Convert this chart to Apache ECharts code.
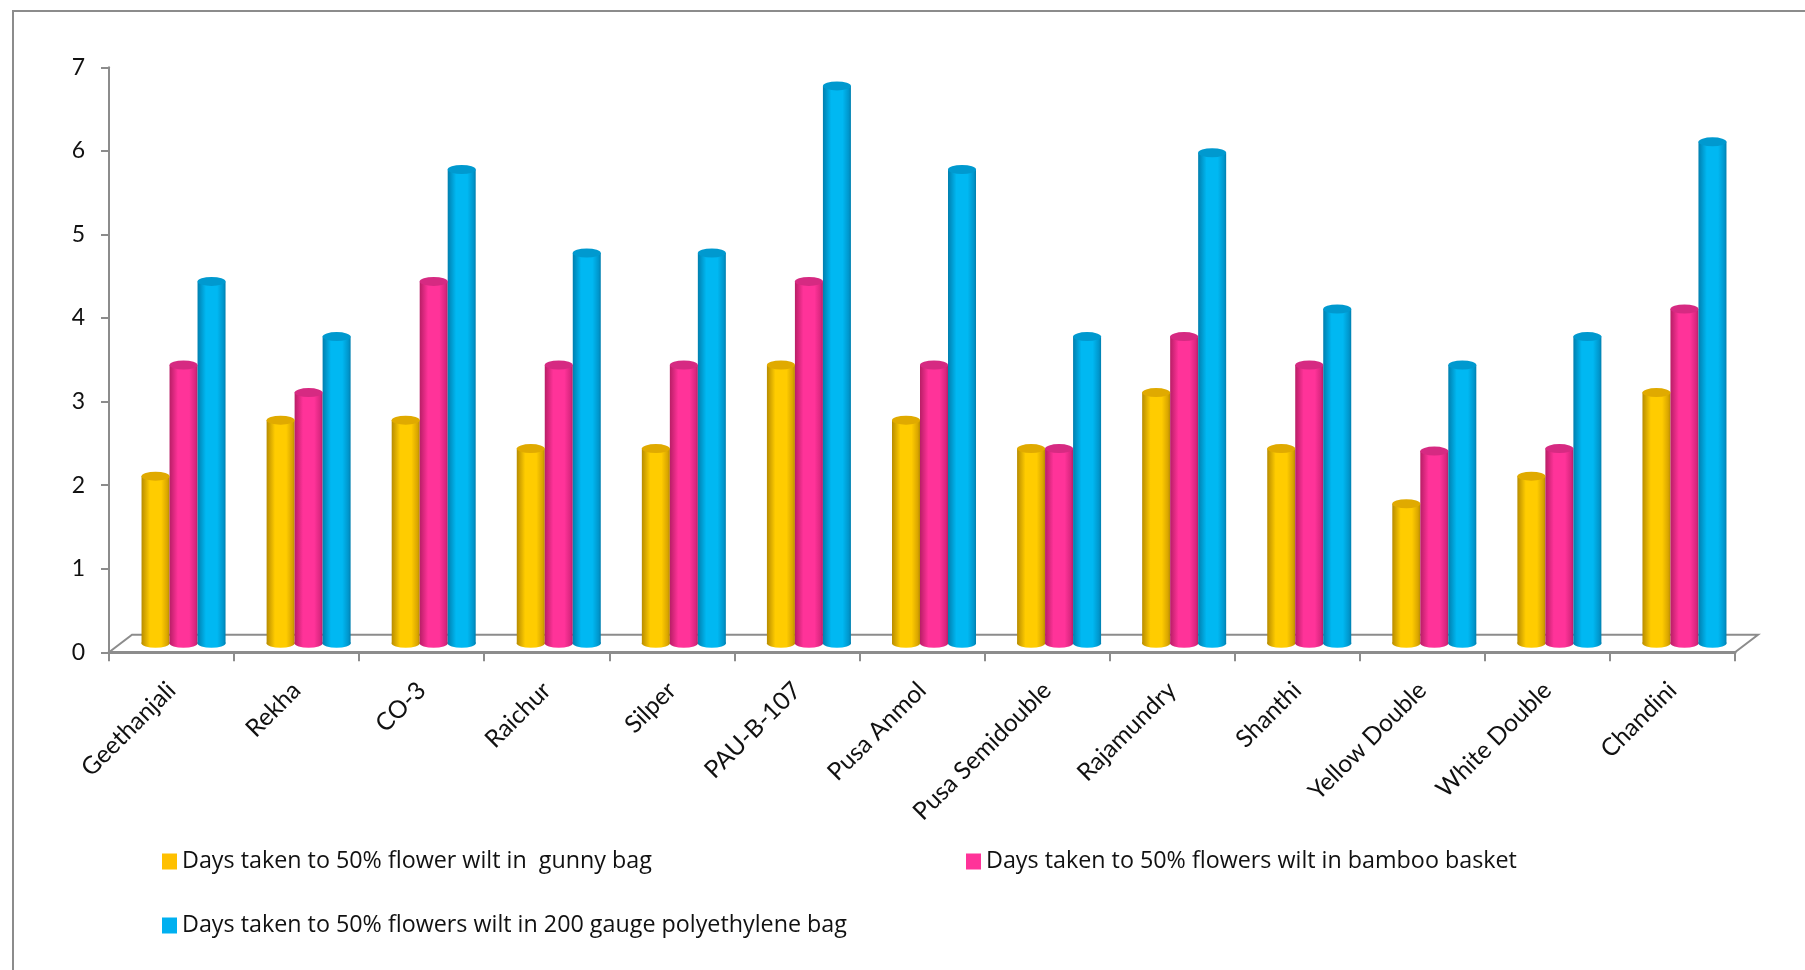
<!DOCTYPE html>
<html>
<head>
<meta charset="utf-8">
<script src="https://cdn.jsdelivr.net/npm/echarts@6/dist/echarts.min.js"></script>
<style>html,body{margin:0;padding:0;background:#fff;}#chart{width:1805px;height:970px;}</style>
</head>
<body>
<div id="chart"></div>
<script>
// ---- data ----
const categories = ['Geethanjali','Rekha','CO-3','Raichur','Silper','PAU-B-107','Pusa Anmol','Pusa Semidouble','Rajamundry','Shanthi','Yellow Double','White Double','Chandini'];
const gunnyBag     = [2.0, 2.67, 2.67, 2.33, 2.33, 3.33, 2.67, 2.33, 3.0, 2.33, 1.67, 2.0, 3.0];
const bambooBasket = [3.33, 3.0, 4.33, 3.33, 3.33, 4.33, 3.33, 2.33, 3.67, 3.33, 2.3, 2.33, 4.0];
const polyBag      = [4.33, 3.67, 5.67, 4.67, 4.67, 6.67, 5.67, 3.67, 5.87, 4.0, 3.33, 3.67, 6.0];
const seriesNames = [
  'Days taken to 50% flower wilt in  gunny bag',
  'Days taken to 50% flowers wilt in bamboo basket',
  'Days taken to 50% flowers wilt in 200 gauge polyethylene bag'
];
const yMin = 0, yMax = 7, yInterval = 1;

// ---- styling / layout ----
const AX = {left:109, top:67.3, width:1626, height:585};
const DEPTH = {dx:23, dy:-17.5};
const SHIFT = {dx:12, dy:-9};
const BW = 28;
const palette = [
  {main:'#FFCC00', dark:'#B88C00', edge:'#D9A500', top:'#E0AA00', legend:'#FFC000'},
  {main:'#FF3399', dark:'#B81E66', edge:'#D9267F', top:'#D62A82', legend:'#FF3399'},
  {main:'#00B8F2', dark:'#007FAF', edge:'#0096CC', top:'#0099CF', legend:'#00B0F0'}
];
const values = [gunnyBag, bambooBasket, polyBag];
const axisGray = '#8C8C8C';
const font = 'Lato, "Open Sans", sans-serif';
const legendFont = '"Open Sans", Lato, sans-serif';

const chart = echarts.init(document.getElementById('chart'));

function grad(p){
  return new echarts.graphic.LinearGradient(0,0,1,0,[
    {offset:0, color:p.dark},
    {offset:0.3, color:p.main},
    {offset:0.7, color:p.main},
    {offset:0.92, color:p.edge},
    {offset:1, color:p.dark}
  ]);
}

const series = [];
values.forEach((vals, i) => {
  const p = palette[i];
  const off = (i - 1) * BW;
  series.push({
    name: seriesNames[i], type:'bar', xAxisIndex:1, yAxisIndex:1,
    data: vals, barWidth: BW, barGap:'0%', z:2 + i,
    itemStyle:{color: grad(p)}
  });
  series.push({
    type:'pictorialBar', xAxisIndex:1, yAxisIndex:1, data: vals,
    symbol:'circle', symbolSize:[BW, 9], symbolPosition:'start', symbolOffset:[off, '50%'],
    z:1 + i, itemStyle:{color: grad(p)}, silent:true
  });
  series.push({
    type:'pictorialBar', xAxisIndex:1, yAxisIndex:1, data: vals,
    symbol:'circle', symbolSize:[BW, 9], symbolPosition:'end', symbolOffset:[off, '-50%'],
    z:10 + i, itemStyle:{color: p.top}, silent:true
  });
});

const fx0 = AX.left, fx1 = AX.left + AX.width, fy = AX.top + AX.height;

const legendText = {fontSize:23.3, color:'#111', fontFamily:legendFont};
const option = {
  backgroundColor:'#fff',
  animation:false,
  grid:[
    {left:AX.left, top:AX.top, width:AX.width, height:AX.height},
    {left:AX.left + SHIFT.dx, top:AX.top + SHIFT.dy, width:AX.width, height:AX.height}
  ],
  xAxis:[
    {type:'category', gridIndex:0, data:categories, boundaryGap:true,
     axisLine:{lineStyle:{color:axisGray, width:3}},
     axisTick:{show:true, length:9, lineStyle:{color:axisGray, width:2}},
     axisLabel:{rotate:45, margin:34, fontSize:24.5, color:'#111', fontFamily:font, interval:0},
     splitLine:{show:false}},
    {type:'category', gridIndex:1, data:categories, boundaryGap:true, show:false}
  ],
  yAxis:[
    {type:'value', gridIndex:0, min:yMin, max:yMax, interval:yInterval,
     axisLine:{show:true, lineStyle:{color:axisGray, width:2}},
     axisTick:{show:true, length:8, lineStyle:{color:axisGray, width:2}},
     axisLabel:{margin:24, fontSize:23, color:'#111', fontFamily:font},
     splitLine:{show:false}},
    {type:'value', gridIndex:1, min:yMin, max:yMax, interval:yInterval, show:false, splitLine:{show:false}}
  ],
  legend:[
    {left:157, top:845, itemWidth:15, itemHeight:16, icon:'rect', itemGap:0, textStyle:legendText,
     data:[{name:seriesNames[0], itemStyle:{color:palette[0].legend}}]},
    {left:961, top:845, itemWidth:15, itemHeight:16, icon:'rect', itemGap:0, textStyle:legendText,
     data:[{name:seriesNames[1], itemStyle:{color:palette[1].legend}}]},
    {left:157, top:909, itemWidth:15, itemHeight:16, icon:'rect', itemGap:0, textStyle:legendText,
     data:[{name:seriesNames[2], itemStyle:{color:palette[2].legend}}]}
  ],
  graphic:[
    {type:'rect', shape:{x:13, y:11, width:1900, height:1100}, style:{fill:null, stroke:'#8C8C8C', lineWidth:2}, z:-1, silent:true},
    {type:'polyline', shape:{points:[[fx0, fy],[fx0 + DEPTH.dx, fy + DEPTH.dy],[fx1 + DEPTH.dx, fy + DEPTH.dy],[fx1, fy]]},
     style:{fill:null, stroke:axisGray, lineWidth:2}, z:0, silent:true}
  ],
  series: series
};
chart.setOption(option);
</script>
</body>
</html>
